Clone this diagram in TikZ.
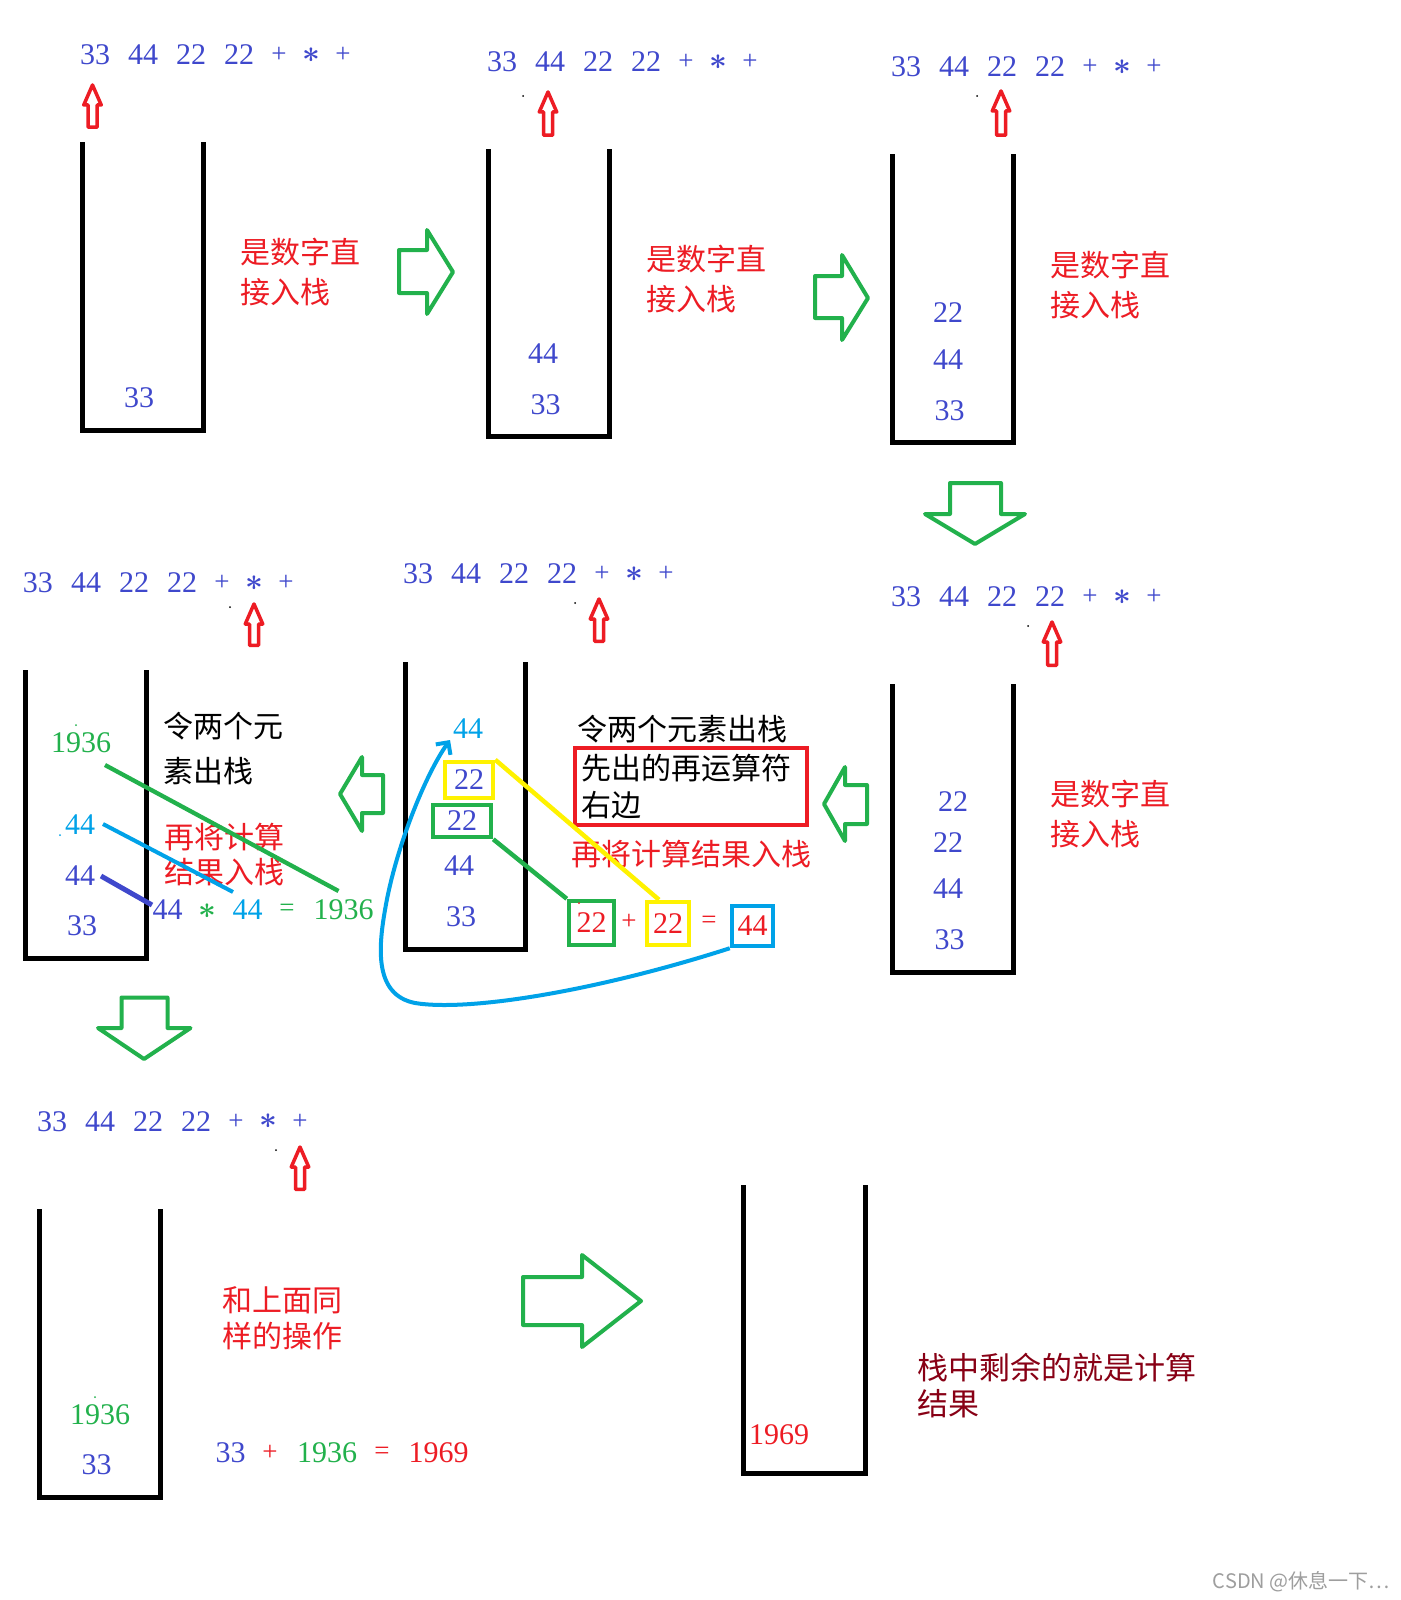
\documentclass[tikz,border=0pt]{standalone}
\usepackage{fontspec}
\setmainfont{Liberation Serif}
\newfontfamily\cjk{Noto Sans CJK SC}
\usetikzlibrary{arrows.meta,calc}
\definecolor{cblue}{RGB}{63,72,204}
\definecolor{cred}{RGB}{237,28,36}
\definecolor{cgreen}{RGB}{34,177,76}
\definecolor{clblue}{RGB}{0,162,232}
\definecolor{cyellow}{RGB}{255,242,0}
\definecolor{cdred}{RGB}{136,0,21}
\tikzset{
  num/.style={inner sep=0pt, font=\fontsize{30}{36}\selectfont},
  opsym/.style={inner sep=0pt, font=\fontsize{27}{32}\selectfont},
  starsym/.style={inner sep=0pt, font=\fontsize{10}{12}\selectfont},
  zh/.style={inner sep=0pt, anchor=north west, align=left, font=\cjk\fontsize{30}{#1}\selectfont},
  zh/.default=40,
  stackline/.style={line width=5pt, draw=black, line join=miter},
  greenarrow/.style={draw=cgreen, line width=4pt, line join=round},
  redarrow/.style={draw=cred, line width=3.5pt, line join=round},
  boxed/.style={draw=#1, line width=4.5pt, inner sep=0pt, font=\fontsize{30}{36}\selectfont, text=cred},
  link/.style={line width=4.5pt},
}
\newcommand\mystar{\scalebox{3.1}{\boldmath$\ast$}}
\newcommand\mytokrow[3]{%
  \node[num,text=cblue] (#1n1) at (#2+15,#3) {33};
  \node[num,text=cblue] (#1n2) at (#2+63,#3) {44};
  \node[num,text=cblue] (#1n3) at (#2+111,#3) {22};
  \node[num,text=cblue] (#1n4) at (#2+159,#3) {22};
  \node[opsym,text=cblue] (#1o1) at (#2+199,#3) {+};
  \node[starsym,text=cblue] (#1o2) at (#2+231,#3) {\mystar};
  \node[opsym,text=cblue] (#1o3) at (#2+263,#3) {+};
}
\newcommand\myrarr[3]{\draw[redarrow] (#1,#2+2) -- (#1+8.75,#2+22) -- (#1+4.5,#2+22) -- (#1+4.5,#3-1.75) -- (#1-4.5,#3-1.75) -- (#1-4.5,#2+22) -- (#1-8.75,#2+22) -- cycle;}
\newcommand\mystk[4]{\draw[stackline] (#1,#3) -- (#1,#4) -- (#2,#4) -- (#2,#3);}
\begin{document}
\begin{tikzpicture}[x=1pt,y=-1pt]
\useasboundingbox (0,0) rectangle (1400,1600);
\fill[white] (0,0) rectangle (1400,1600);

% token rows
\mytokrow{ra}{80}{55}
\mytokrow{rb}{487}{62}
\mytokrow{rc}{891}{67}
\mytokrow{rd}{23}{583}
\mytokrow{re}{403}{574}
\mytokrow{rf}{891}{597}
\mytokrow{rg}{37}{1121.5}

% red pointer arrows
\myrarr{92.5}{83}{129}
\myrarr{548}{90}{137}
\myrarr{1001}{89}{137}
\myrarr{254}{602}{647}
\myrarr{599}{597}{643}
\myrarr{1052}{620}{667}
\myrarr{300}{1145}{1191}

% specks
\fill (523,96) circle (1pt);
\fill (977,96) circle (1pt);
\fill (1028,626) circle (1pt);
\fill (575,603) circle (1pt);
\fill (230,607) circle (1pt);
\fill (276,1150) circle (1pt);
\fill[cgreen] (76,725) circle (1pt);
\fill[clblue] (60,835) circle (1pt);
\fill[cgreen] (95,1397) circle (1pt);

% stacks
\mystk{82.5}{203.5}{142}{430.5}
\mystk{488.5}{609.5}{149}{436.5}
\mystk{892}{1013.5}{154}{442.5}
\mystk{25.5}{146.5}{670}{958.5}
\mystk{405}{525.5}{662}{949}
\mystk{892}{1013.5}{684}{972.5}
\mystk{39.5}{160.5}{1209}{1497}
\mystk{743.5}{865}{1185}{1473.5}

% green transition arrows
\draw[greenarrow] (399,250) -- (427,250) -- (427,230) -- (453,272) -- (427,314) -- (427,293) -- (399,293) -- cycle;
\draw[greenarrow] (815,276) -- (842,276) -- (842,255) -- (868,298) -- (842,340) -- (842,318) -- (815,318) -- cycle;
\draw[greenarrow] (950,483) -- (1001,483) -- (1001,514) -- (1025,514) -- (975,544) -- (925,514) -- (950,514) -- cycle;
\draw[greenarrow] (824,804) -- (845,767) -- (845,785) -- (867,785) -- (867,824) -- (845,824) -- (845,841) -- cycle;
\draw[greenarrow] (340,794) -- (362,757) -- (362,775) -- (383,775) -- (383,813) -- (362,813) -- (362,831) -- cycle;
\draw[greenarrow] (121.5,997.5) -- (167.5,997.5) -- (167.5,1028) -- (190.5,1028) -- (144,1059) -- (98,1028) -- (121.5,1028) -- cycle;
\draw[greenarrow] (523,1277) -- (582,1277) -- (582,1255) -- (641,1301) -- (582,1347) -- (582,1325) -- (523,1325) -- cycle;

% stack contents
\node[num,text=cblue] (s1a) at (139,398) {33};
\node[num,text=cblue] (s2a) at (543,353.5) {44};
\node[num,text=cblue] (s2b) at (545.5,404.5) {33};
\node[num,text=cblue] (s3a) at (948,312.5) {22};
\node[num,text=cblue] (s3b) at (948,359.5) {44};
\node[num,text=cblue] (s3c) at (949.5,410.5) {33};
\node[num,text=cblue] (s6a) at (953,802) {22};
\node[num,text=cblue] (s6b) at (948,843) {22};
\node[num,text=cblue] (s6c) at (948,889) {44};
\node[num,text=cblue] (s6d) at (949.5,940) {33};
\node[num,text=clblue] (s5a) at (468,729) {44};
\node[boxed=cyellow,text=cblue,minimum width=48pt,minimum height=36pt] (yb1) at (469,780) {22};
\node[boxed=cgreen,text=cblue,minimum width=58pt,minimum height=32pt] (gb1) at (462,821) {22};
\node[num,text=cblue] (s5d) at (459,866) {44};
\node[num,text=cblue] (s5e) at (461,917) {33};
\node[num,text=cgreen] (s4a) at (81,743) {1936};
\node[num,text=clblue] (s4b) at (80,825) {44};
\node[num,text=cblue] (s4c) at (80,876) {44};
\node[num,text=cblue] (s4d) at (82,926) {33};
\node[num,text=cgreen] (s7a) at (100,1414.5) {1936};
\node[num,text=cblue] (s7b) at (96.5,1465) {33};
\node[num,text=cred] (s8a) at (779,1435) {1969};

% texts
\node[zh,text=cred] (t1) at (240,238) {是数字直\\接入栈};
\node[zh,text=cred] (t2) at (646,245) {是数字直\\接入栈};
\node[zh,text=cred] (t3) at (1050,251) {是数字直\\接入栈};
\node[zh,text=cred] (t6) at (1050,780) {是数字直\\接入栈};
\node[zh=45,text=black] (t4a) at (163,712) {令两个元\\素出栈};
\node[zh=35,text=cred] (t4b) at (164,823) {再将计算\\结果入栈};
\node[zh,text=black] (t5a) at (577,715) {令两个元素出栈};
\node[zh=37.5,text=black,draw=cred,line width=4pt,text width=220pt,inner xsep=6pt,minimum height=77pt] (t5b) at (573,746) {先出的再运算符\\右边};
\node[zh,text=cred] (t5c) at (571,840) {再将计算结果入栈};
\node[zh=36,text=cred] (t7) at (222,1286.5) {和上面同\\样的操作};
\node[zh=36,text=cdred,font=\cjk\fontsize{31}{36}\selectfont] (t8) at (917,1353) {栈中剩余的就是计算\\结果};
\node[anchor=east,inner sep=0pt,text=black!38,font=\cjk\fontsize{20}{24}\selectfont] (wm) at (1390,1582) {CSDN @休息一下…};

% equation panel 4
\node[num,text=cblue] (eqa1) at (167.5,910) {44};
\node[starsym,text=cgreen] (eqa2) at (207,911) {\mystar};
\node[num,text=clblue] (eqa3) at (247.5,910) {44};
\node[opsym,text=cgreen] (eqa4) at (287,910) {=};
\node[num,text=cgreen] (eqa5) at (343.5,910) {1936};

% equation panel 5
\node[boxed=cgreen,minimum width=45pt,minimum height=44pt] (gb2) at (591.5,923) {22};
\node[opsym,text=cred] (eqb2) at (629,922) {+};
\node[boxed=cyellow,minimum width=42pt,minimum height=43pt] (yb2) at (668,923.5) {22};
\node[opsym,text=cred] (eqb4) at (709,922) {=};
\node[boxed=clblue,minimum width=41pt,minimum height=40pt] (bb) at (752.5,926) {44};
\fill[cred] (579,903) circle (1pt);

% equation panel 7
\node[num,text=cblue] (eqc1) at (230.5,1453) {33};
\node[opsym,text=cred] (eqc2) at (270,1453) {+};
\node[num,text=cgreen] (eqc3) at (327,1453) {1936};
\node[opsym,text=cred] (eqc4) at (382,1453) {=};
\node[num,text=cred] (eqc5) at (438.5,1453) {1969};

% connectors panel 4
\draw[cgreen,line width=4.3pt] ([shift={(24,22)}]s4a.center) -- ([shift={(-5,-19)}]eqa5.center);
\draw[clblue,line width=4pt] ([shift={(23,-1)}]s4b.center) -- ([shift={(-14.5,-18)}]eqa3.center);
\draw[cblue,line width=5pt] ([shift={(21,0)}]s4c.center) -- ([shift={(-15.5,-5)}]eqa1.center);

% connectors panel 5
\draw[cyellow,link] (yb1.north east) -- ([xshift=-9pt]yb2.north);
\draw[cgreen,link] (gb1.south east) -- (gb2.north west);
\draw[clblue,line width=4pt,-{Straight Barb[length=9pt,width=18pt]}] (bb.south west) .. controls (600,990) and (470,1012) .. (415,1003) .. controls (375,995) and (378,950) .. (385,910) .. controls (395,850) and (425,775) .. ([shift={(-18,11)}]s5a.center);
\end{tikzpicture}
\end{document}
